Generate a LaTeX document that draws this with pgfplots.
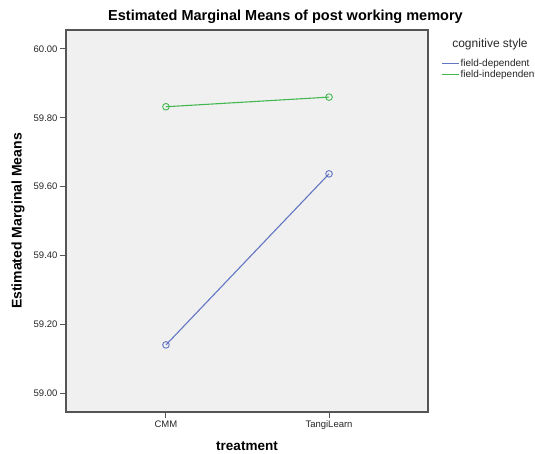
\documentclass[border=0pt]{standalone}
\usepackage{pgfplots}
\pgfplotsset{compat=1.18}
\usepackage{fontspec}
\setmainfont{Liberation Sans}
\definecolor{fdblue}{RGB}{98,118,196}
\definecolor{figreen}{RGB}{68,184,80}
\definecolor{plotbg}{RGB}{240,240,240}
\definecolor{frame}{RGB}{85,85,85}
\begin{document}
\begin{tikzpicture}[x=1pt,y=1pt]
\useasboundingbox (0,0) rectangle (535,453);
\begin{axis}[
  at={(66pt,41pt)}, anchor=south west,
  scale only axis, width=362pt, height=382pt,
  xmin=-0.613, xmax=1.607,
  ymin=58.945, ymax=60.055,
  xtick={0,1}, xticklabels={CMM,TangiLearn},
  ytick={59,59.2,...,60.01},
  /pgf/number format/assume math mode=true,
  tick label style={font=\fontsize{9.5}{11}\selectfont, text=black!85},
  xticklabel style={yshift=1pt},
  yticklabel style={xshift=1pt, /pgf/number format/.cd, fixed, fixed zerofill, precision=2},
  tick align=outside, major tick length=6pt,
  tick style={frame, line width=1pt},
  xtick pos=bottom, ytick pos=left,
  axis line style={frame, line width=1.3pt},
  axis background/.style={fill=plotbg},
  legend style={draw=none, fill=none, at={(1,1)}, anchor=north west,
    xshift=13pt, yshift=-28pt, inner sep=0pt, row sep=0pt,
    font=\fontsize{10}{11}\selectfont,
    nodes={inner sep=1pt, text=black!85}},
  legend cell align=left,
  legend image post style={mark=none, line width=1.3pt},
]
\addplot[fdblue, line width=1.1pt, mark=o, mark size=3.3pt, mark options={line width=0.9pt}]
  coordinates {(0,59.140) (1,59.637)};
\addlegendentry{field-dependent}
\addplot[figreen, line width=1.1pt, mark=o, mark size=3.3pt, mark options={line width=0.9pt}]
  coordinates {(0,59.832) (1,59.860)};
\addlegendentry{field-independent}
\end{axis}
\node[font=\bfseries\fontsize{14.5}{17}\selectfont] at (285.5,436) {Estimated Marginal Means of post working memory};
\node[font=\fontsize{12}{14}\selectfont, text=black!85] at (490,409) {cognitive style};
\node[font=\bfseries\fontsize{14}{16}\selectfont, rotate=90] at (18,232) {Estimated Marginal Means};
\node[font=\bfseries\fontsize{13.5}{15}\selectfont] at (247,6.5) {treatment};
\end{tikzpicture}
\end{document}
